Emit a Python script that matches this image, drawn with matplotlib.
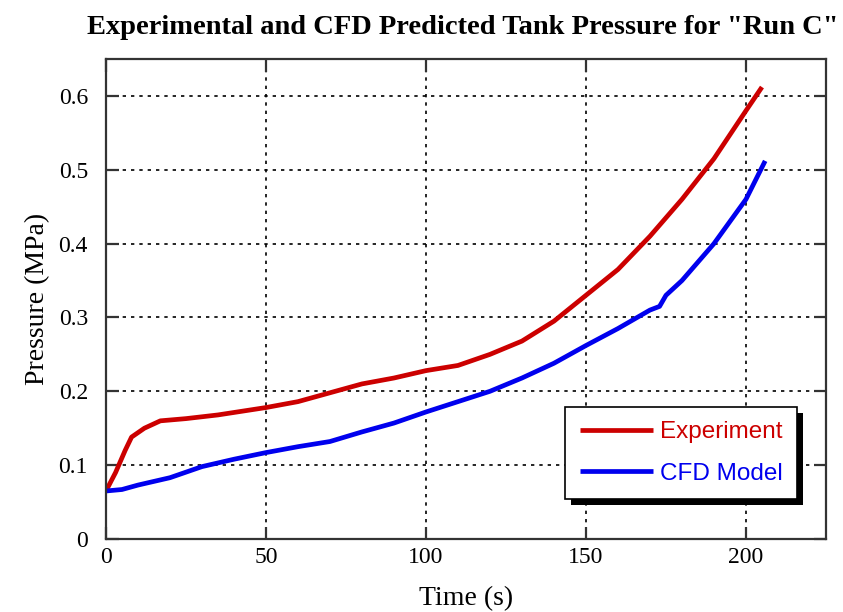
import matplotlib
matplotlib.use("Agg")
import matplotlib.pyplot as plt
from matplotlib.patches import Rectangle

# experiment curve (time in s, pressure in MPa)
exp_t = [0, 3, 6, 8, 12, 17, 25, 35, 50, 60, 70, 80, 90, 100, 110, 120,
         130, 140, 150, 160, 170, 180, 190, 200, 205]
exp_p = [0.065, 0.09, 0.12, 0.138, 0.15, 0.16, 0.163, 0.168, 0.178, 0.186,
         0.198, 0.21, 0.218, 0.228, 0.235, 0.25, 0.268, 0.295, 0.33, 0.365,
         0.41, 0.46, 0.515, 0.58, 0.612]

# CFD model curve
cfd_t = [0, 5, 10, 20, 30, 40, 50, 60, 70, 80, 90, 100, 110, 120, 130,
         140, 150, 160, 170, 173, 175, 180, 190, 200, 206]
cfd_p = [0.065, 0.067, 0.073, 0.083, 0.098, 0.108, 0.117, 0.125, 0.132,
         0.145, 0.157, 0.172, 0.186, 0.2, 0.218, 0.238, 0.262, 0.285, 0.31,
         0.315, 0.33, 0.35, 0.4, 0.46, 0.512]

xticks = [0, 50, 100, 150, 200]
yticks = [0, 0.1, 0.2, 0.3, 0.4, 0.5, 0.6]
ytick_labels = ["0", "0.1", "0.2", "0.3", "0.4", "0.5", "0.6"]

fig = plt.figure(figsize=(8.43, 6.12), dpi=100)
ax = fig.add_axes([0.1257, 0.1193, 0.8541, 0.7843])

ax.plot(exp_t, exp_p, color="#cc0000", lw=3.4, label="Experiment", solid_capstyle="butt")
ax.plot(cfd_t, cfd_p, color="#0000ee", lw=3.4, label="CFD Model", solid_capstyle="butt")

ax.set_xlim(0, 225)
ax.set_ylim(0, 0.65)
ax.set_xticks(xticks)
ax.set_yticks(yticks)
ax.set_yticklabels(ytick_labels)

serif = "Liberation Serif"
for lab in ax.get_xticklabels() + ax.get_yticklabels():
    lab.set_family(serif)
    lab.set_fontsize(17)

ax.tick_params(direction="in", length=9, width=1.6, top=True, right=True, color="#333333")
ax.tick_params(axis="x", pad=6)
ax.tick_params(axis="y", pad=13)
ax.grid(True, color="black", linestyle=(0, (2, 3)), linewidth=1.2)
for s in ax.spines.values():
    s.set_color("#333333")
    s.set_linewidth(1.6)

ax.set_xlabel("Time (s)", family=serif, fontsize=20, labelpad=13)
ax.set_ylabel("Pressure (MPa)", family=serif, fontsize=20, labelpad=6)
ax.set_title('Experimental and CFD Predicted Tank Pressure for "Run C"',
             family=serif, fontweight="bold", fontsize=20.5, pad=18, x=0.496)

leg = ax.legend(loc="lower right", bbox_to_anchor=(0.960, 0.083),
                borderaxespad=0,
                prop={"family": "Liberation Sans", "size": 17.5},
                labelcolor="linecolor", fancybox=False, framealpha=1,
                edgecolor="black", handlelength=3.0, borderpad=0.6,
                labelspacing=0.8, handletextpad=0.3)
leg.get_frame().set_linewidth(1.2)
leg.set_zorder(6)

# black drop shadow behind the legend box
fig.canvas.draw()
bb = leg.get_frame().get_window_extent()
shadow = Rectangle((bb.x0 + 6, bb.y0 - 6), bb.width, bb.height,
                   transform=None, facecolor="black", edgecolor="none", zorder=5.5)
ax.add_artist(shadow)

fig.savefig("out.png", dpi=100)
